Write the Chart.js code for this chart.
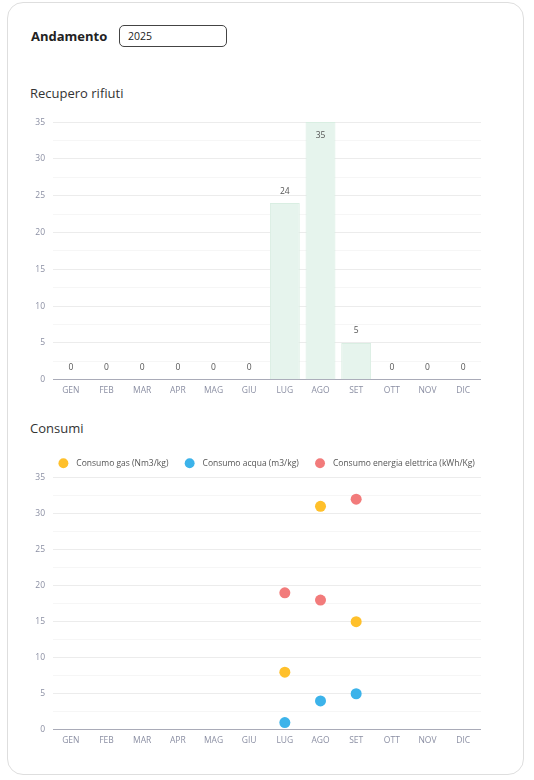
<!DOCTYPE html>
<html>
<head>
<meta charset="utf-8">
<script src="https://cdn.jsdelivr.net/npm/chart.js@4/dist/chart.umd.min.js"></script>
<style>
  html, body { margin: 0; padding: 0; background: #fff; }
  body { width: 534px; height: 780px; position: relative; font-family: "Open Sans", sans-serif; color: #333; overflow: hidden; }
  .card { position: absolute; left: 7px; top: 2px; width: 517px; height: 773px; border: 1px solid #dedede; border-radius: 16px; box-sizing: border-box; }
  .lbl { position: absolute; left: 31px; top: 27px; font-size: 13px; font-weight: 700; color: #222; }
  .inp { position: absolute; left: 119px; top: 25px; width: 108px; height: 22px; border: 1px solid #444; border-radius: 5px; box-sizing: border-box; font-size: 10.5px; padding-left: 8px; line-height: 20px; color: #222; }
  .title { position: absolute; left: 30px; font-size: 13px; color: #333; }
  .wrap { position: absolute; }
</style>
</head>
<body>
<div class="card"></div>
<div class="lbl">Andamento</div>
<div class="inp">2025</div>
<div class="title" style="top:84px">Recupero rifiuti</div>
<div class="wrap" style="left:30px; top:109px; width:451px; height:293px;"><canvas id="c1"></canvas></div>
<div class="title" style="top:419px">Consumi</div>
<div class="wrap" style="left:30px; top:442px; width:451px; height:310px;"><canvas id="c2"></canvas></div>
<script>
const months = ["GEN","FEB","MAR","APR","MAG","GIU","LUG","AGO","SET","OTT","NOV","DIC"];
const rifiuti = [0,0,0,0,0,0,24,35,5,0,0,0];
const gas = [null,null,null,null,null,null,8,31,15,null,null,null];
const acqua = [null,null,null,null,null,null,1,4,5,null,null,null];
const energia = [null,null,null,null,null,null,19,18,32,null,null,null];
const seriesNames = ["Consumo gas (Nm3/kg)","Consumo acqua (m3/kg)","Consumo energia elettrica (kWh/Kg)"];
const yMax = 35, yStep = 2.5;

const tickColor = "#8b8fa3";
const tickFont = { family: "Open Sans", size: 8.5 };

function yScale() {
  return {
    min: 0, max: yMax,
    border: { display: false },
    grid: {
      color: (ctx) => (ctx.tick && ctx.tick.value % 5 === 0) ? "#ececec" : "#f6f6f6",
      drawTicks: false, lineWidth: 1
    },
    ticks: {
      stepSize: yStep, color: tickColor, font: tickFont, padding: 8,
      callback: (v) => (v % 5 === 0 ? v : "")
    },
    afterFit: (s) => { s.width = 23; }
  };
}
function xScale() {
  return {
    offset: true,
    grid: { display: false, drawTicks: false },
    border: { display: true, color: "#a9abb8", width: 1 },
    ticks: { color: tickColor, font: tickFont, padding: 6 }
  };
}

const valueLabels = {
  id: "valueLabels",
  afterDatasetsDraw(chart) {
    const ctx = chart.ctx;
    const meta = chart.getDatasetMeta(0);
    const area = chart.chartArea;
    ctx.save();
    ctx.font = "8.5px 'Open Sans'";
    ctx.fillStyle = "#555";
    ctx.textAlign = "center";
    ctx.textBaseline = "middle";
    meta.data.forEach((bar, i) => {
      const v = chart.data.datasets[0].data[i];
      let y = bar.y - 12;
      if (y - 6 < area.top) { y = bar.y + 13; }
      ctx.fillText(String(v), bar.x, y);
    });
    ctx.restore();
  }
};

// centre the legend over the plot area instead of the whole canvas
const legendCenter = {
  id: "legendCenter",
  afterLayout(chart) {
    const lg = chart.legend, a = chart.chartArea;
    if (!lg) return;
    const shift = (a.left + a.right) / 2 - (lg.left + lg.right) / 2;
    lg.left += shift; lg.right += shift;
  }
};

new Chart(document.getElementById("c1"), {
  type: "bar",
  data: {
    labels: months,
    datasets: [{
      data: rifiuti,
      backgroundColor: "#e6f4ed",
      borderColor: "#d9eee2",
      borderWidth: 1,
      barPercentage: 0.93,
      categoryPercentage: 0.9
    }]
  },
  options: {
    responsive: true, maintainAspectRatio: false, animation: false,
    layout: { padding: 0, autoPadding: false },
    plugins: { legend: { display: false }, tooltip: { enabled: false } },
    scales: { x: xScale(), y: yScale() }
  },
  plugins: [valueLabels]
});

new Chart(document.getElementById("c2"), {
  type: "line",
  data: {
    labels: months,
    datasets: [
      { label: seriesNames[0], data: gas, showLine: false, backgroundColor: "#ffc02b", borderColor: "#ffc02b", pointRadius: 5.5, pointBorderWidth: 0 },
      { label: seriesNames[1], data: acqua, showLine: false, backgroundColor: "#3cb3ea", borderColor: "#3cb3ea", pointRadius: 5.5, pointBorderWidth: 0 },
      { label: seriesNames[2], data: energia, showLine: false, backgroundColor: "#f27b7b", borderColor: "#f27b7b", pointRadius: 5.5, pointBorderWidth: 0 }
    ]
  },
  options: {
    responsive: true, maintainAspectRatio: false, animation: false,
    layout: { padding: 0, autoPadding: false },
    plugins: {
      legend: {
        display: true, position: "top",
        labels: {
          usePointStyle: true, pointStyle: "circle", boxHeight: 7, boxWidth: 20, padding: 17,
          color: "#555", font: { family: "Open Sans", size: 8.5 },
          generateLabels: (chart) => Chart.defaults.plugins.legend.labels.generateLabels(chart).map(l => Object.assign(l, { text: "  " + l.text }))
        }
      },
      tooltip: { enabled: false }
    },
    scales: { x: xScale(), y: yScale() }
  },
  plugins: [legendCenter]
});
</script>
</body>
</html>
